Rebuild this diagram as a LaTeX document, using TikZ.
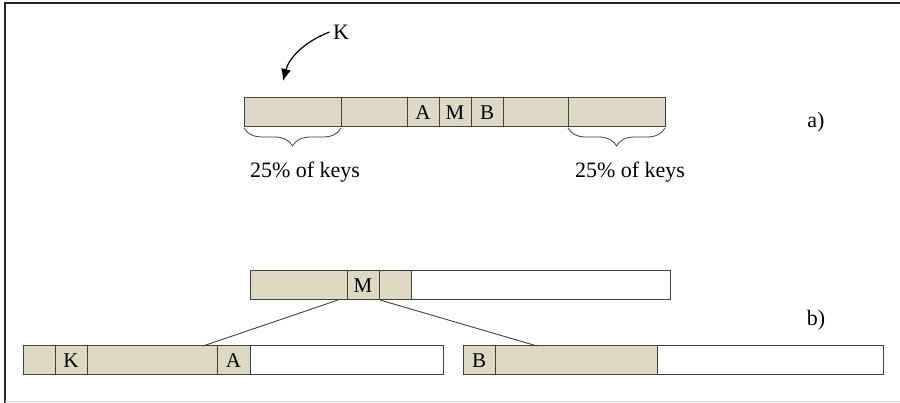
\documentclass[tikz,border=0pt]{standalone}
\usepackage{fontspec}
\setmainfont{Liberation Serif}
\newfontfamily\keyfont{Liberation Serif}
\usetikzlibrary{arrows.meta,positioning,decorations.pathreplacing}
\definecolor{keyfill}{HTML}{DDD9C3}
\definecolor{edge}{HTML}{404040}
\definecolor{rule}{HTML}{DADADA}

\begin{document}
\begin{tikzpicture}[
  x=1pt, y=-1pt,
  node distance=0pt,
  cell/.style={draw=edge,fill=keyfill,line width=1pt,outer sep=0pt,inner sep=0pt,
    minimum height=29pt,anchor=north west,font=\keyfont\fontsize{21}{25}\selectfont},
  free/.style={cell,fill=white},
  tag/.style={font=\keyfont\fontsize{22}{26}\selectfont},
  brc/.style={draw=edge,line width=0.8pt,decorate,decoration={brace,amplitude=18pt}},
  link/.style={draw=edge,line width=0.9pt},
  arr/.style={-{Latex[length=12pt,width=10pt]},draw=black,line width=1.2pt}
]
\useasboundingbox (0,0) rectangle (900,403);
% frame
\draw[line width=2pt,black!85] (5,403) -- (5,3) -- (900,3);
\draw[rule,line width=1pt] (5,401) -- (900,401);

% a) full node before the split
\node[cell,minimum width=97pt] (a1) at (244,98) {};
\node[cell,minimum width=66pt,right=of a1] (a2) {};
\node[cell,minimum width=32pt,right=of a2] (a3) {A};
\node[cell,minimum width=32pt,right=of a3] (a4) {M};
\node[cell,minimum width=32pt,right=of a4] (a5) {B};
\node[cell,minimum width=65pt,right=of a5] (a6) {};
\node[cell,minimum width=97pt,right=of a6] (a7) {};
\node[tag] (la) at (816,122) {a)};

\draw[brc] ([yshift=-1pt]a1.south east) -- ([yshift=-1pt]a1.south west);
\draw[brc] ([yshift=-1pt]a7.south east) -- ([yshift=-1pt]a7.south west);
\node[tag] (qleft) at (305,172) {25\% of keys};
\node[tag] (qright) at (630,172) {25\% of keys};

% new key K
\node[tag] (knew) at (341,32) {K};
\coordinate (kslot) at (283,81);
\draw[arr] (knew.west) .. controls (304,42) and (289,58) .. (kslot);

% b) after the split
\node[cell,minimum width=97pt] (p1) at (250,271) {};
\node[cell,minimum width=32pt,right=of p1] (p2) {M};
\node[cell,minimum width=32pt,right=of p2] (p3) {};
\node[free,minimum width=259pt,right=of p3] (p4) {};

\node[cell,minimum width=32pt] (l1) at (23,346) {};
\node[cell,minimum width=32pt,right=of l1] (l2) {K};
\node[cell,minimum width=130pt,right=of l2] (l3) {};
\node[cell,minimum width=33pt,right=of l3] (l4) {A};
\node[free,minimum width=193pt,right=of l4] (l5) {};

\node[cell,minimum width=32pt] (r1) at (463,346) {B};
\node[cell,minimum width=162pt,right=of r1] (r2) {};
\node[free,minimum width=226pt,right=of r2] (r3) {};
\node[tag] (lb) at (816,320) {b)};

\draw[link] ([xshift=-9pt]p2.south west) -- ([xshift=-14pt]l4.north west);
\draw[link] ([xshift=1pt]p2.south east) -- ([xshift=42pt]r2.north west);
\end{tikzpicture}
\end{document}
